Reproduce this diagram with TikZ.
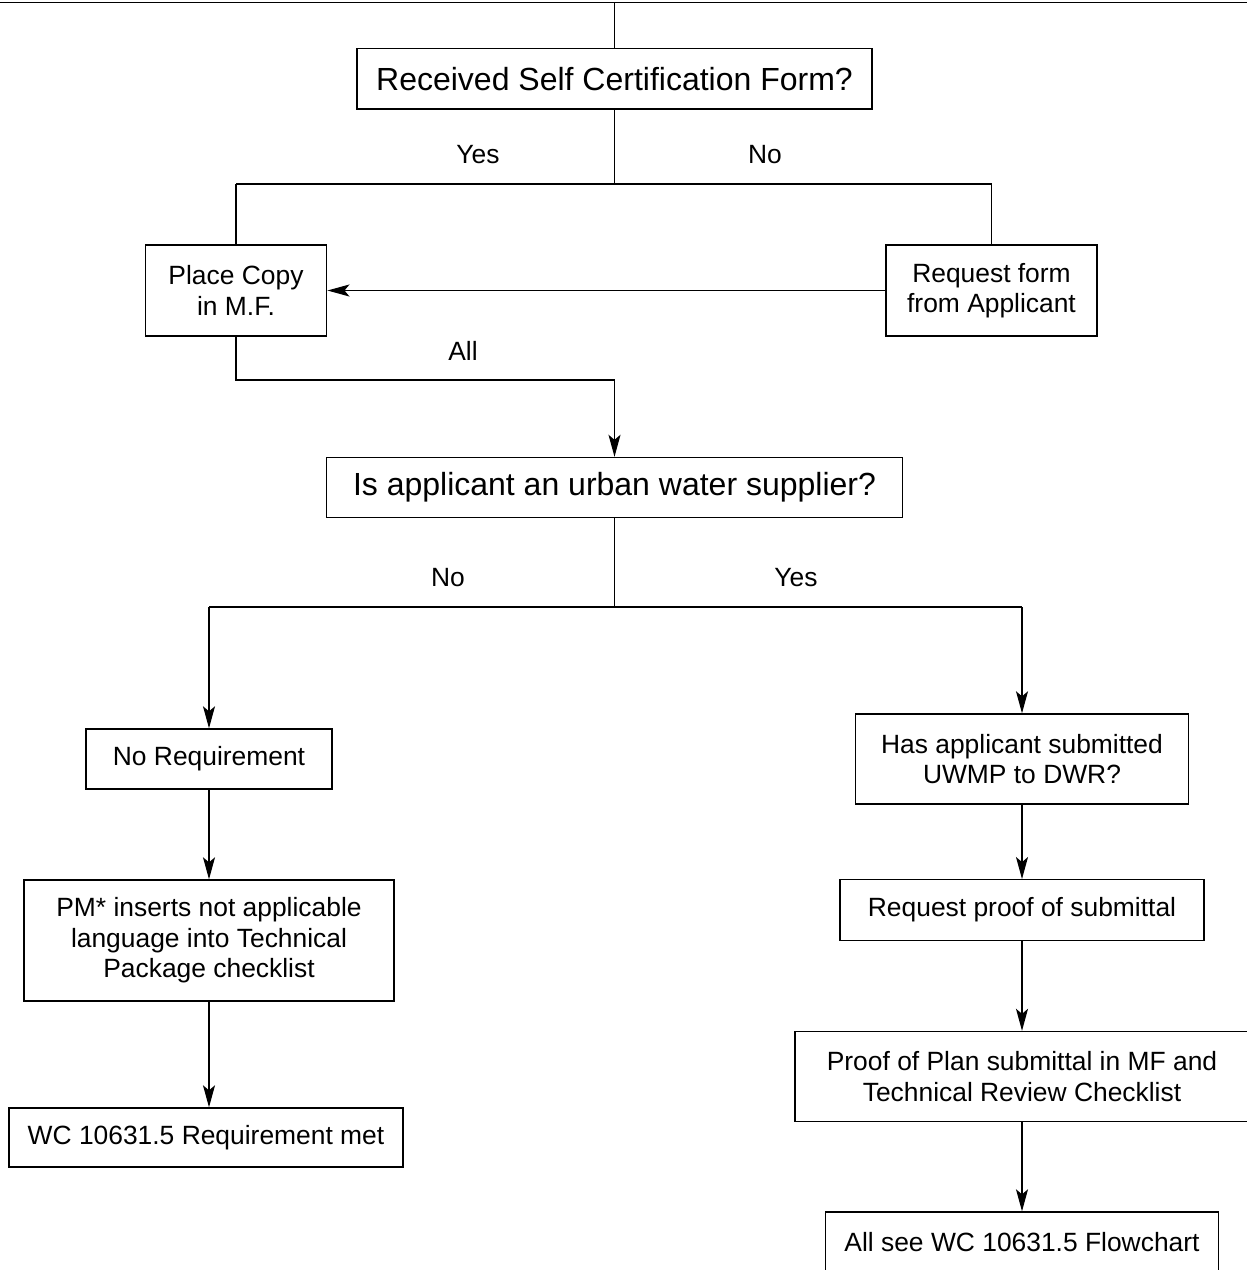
\documentclass[tikz,border=0pt]{standalone}
\usepackage{fontspec}
\setmainfont{Liberation Sans}
\usetikzlibrary{arrows.meta}
\begin{document}
\begin{tikzpicture}[x=1pt,y=-1pt,
  line width=1.4pt,
  box/.style={draw, line width=1.4pt, inner sep=0pt, align=center,
    font=\fontsize{26.4}{30.5}\selectfont},
  bigbox/.style={box, font=\fontsize{32}{36}\selectfont},
  lbl/.style={inner sep=0pt, font=\fontsize{26.4}{30.5}\selectfont},
  arr/.style={-{Stealth[length=22pt,width=12pt,inset=5pt]}}]
\useasboundingbox (0,0) rectangle (1247,1270);
\clip (0,0) rectangle (1247,1270);
\fill[white] (0,0) rectangle (1247,1270);

% nodes
\node[bigbox, minimum width=515pt, minimum height=60.5pt] (q1) at (614.5,78.75) {Received Self Certification Form?};
\node[box, minimum width=181.5pt, minimum height=91pt] (place) at (236,290.5) {Place Copy\\in M.F.};
\node[box, minimum width=211pt, minimum height=91pt] (req) at (991.5,290.5) {Request form\\from Applicant};
\node[bigbox, minimum width=575.5pt, minimum height=60pt] (q2) at (614.5,487.5) {Is applicant an urban water supplier?};
\node[box, minimum width=246pt, minimum height=60pt] (noreq) at (209,759) {No Requirement};
\node[box, minimum width=332.5pt, minimum height=90pt] (hasapp) at (1022,759) {Has applicant submitted\\UWMP to DWR?};
\node[box, minimum width=370pt, minimum height=121pt] (pm) at (209,940.5) {PM* inserts not applicable\\language into Technical\\Package checklist};
\node[box, minimum width=394pt, minimum height=59pt] (wc) at (206,1137.5) {WC 10631.5 Requirement met};
\node[box, minimum width=364pt, minimum height=60.5pt] (reqproof) at (1022,910) {Request proof of submittal};
\node[box, minimum width=454pt, minimum height=90pt] (proof) at (1022,1076.5) {Proof of Plan submittal in MF and\\Technical Review Checklist};
\node[box, minimum width=393.5pt, minimum height=60pt] (allsee) at (1022,1242) {All see WC 10631.5 Flowchart};

% labels
\node[lbl] (yes1) at (478,155) {Yes};
\node[lbl] (no1) at (765,155) {No};
\node[lbl] (all) at (463,351) {All};
\node[lbl] (no2) at (448,578) {No};
\node[lbl] (yes2) at (796,578) {Yes};

% coordinates
\coordinate (tl) at (0,2.5);
\coordinate (tr) at (1247,2.5);
\coordinate (top) at (614.5,2.5);
\coordinate (b1l) at (236,184);
\coordinate (b1r) at (991.5,184);
\coordinate (b1) at (614.5,184);
\coordinate (j1) at (236,380);
\coordinate (b2l) at (209,607);
\coordinate (b2r) at (1022,607);
\coordinate (b2) at (614.5,607);

% connectors
\draw (tl) -- (tr);
\draw (top) -- (q1.north);
\draw (q1.south) -- (b1);
\draw (b1l) -- (b1r);
\draw (b1l) -- (place.north);
\draw (b1r) -- (req.north);
\draw[arr] (req.west) -- (place.east);
\draw[arr] (place.south) -- (j1) -| (q2.north);
\draw (q2.south) -- (b2);
\draw (b2l) -- (b2r);
\draw[arr] (b2l) -- (noreq.north);
\draw[arr] (b2r) -- (hasapp.north);
\draw[arr] (noreq.south) -- (pm.north);
\draw[arr] (pm.south) -- (pm.south |- wc.north);
\draw[arr] (hasapp.south) -- (reqproof.north);
\draw[arr] (reqproof.south) -- (proof.north);
\draw[arr] (proof.south) -- (allsee.north);
\end{tikzpicture}
\end{document}
